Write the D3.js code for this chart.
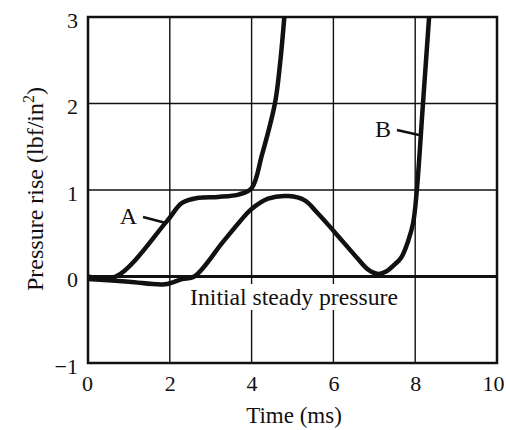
<!DOCTYPE html>
<html>
<head>
<meta charset="utf-8">
<script src="https://cdn.jsdelivr.net/npm/d3@7"></script>
<style>
  html, body { margin: 0; padding: 0; background: #fff; }
  text { font-family: "Liberation Serif", "Times New Roman", serif; fill: #111; }
</style>
</head>
<body>
<svg id="chart" width="506" height="430"></svg>
<script>
// curve A (time in ms, pressure rise in lbf/in^2)
const timeA  = [0, 0.68, 1.93, 2.3, 2.7, 3.18, 3.7, 4.0, 4.25, 4.57, 4.7, 4.8];
const pressA = [0, 0, 0.64, 0.85, 0.91, 0.92, 0.95, 1.02, 1.4, 2.0, 2.48, 3.0];

// curve B
const timeB  = [0, 1.0, 1.88, 2.3, 2.6, 3.3, 3.72, 4.0, 4.4, 4.9, 5.3, 5.6, 6.0, 6.57, 6.85, 7.1, 7.3, 7.5, 7.66, 7.82, 7.95, 8.04, 8.19, 8.34];
const pressB = [-0.03, -0.06, -0.09, -0.03, 0.0, 0.4, 0.64, 0.78, 0.9, 0.93, 0.88, 0.74, 0.53, 0.22, 0.08, 0.03, 0.06, 0.14, 0.22, 0.4, 0.62, 1.0, 2.0, 3.0];

const xTicks = [0, 2, 4, 6, 8, 10];
const yTicks = [-1, 0, 1, 2, 3];

const svg = d3.select('#chart');
const plot = { left: 88, right: 497, top: 17, bottom: 363 };

const x = d3.scaleLinear().domain([0, 10]).range([plot.left, plot.right]);
const y = d3.scaleLinear().domain([-1, 3]).range([plot.bottom, plot.top]);

// grid
const grid = svg.append("g").attr("stroke", "#111").attr("stroke-width", 1.4);
grid.selectAll(".gx")
  .data(xTicks.slice(1, -1))
  .enter().append("line")
  .attr("x1", d => x(d)).attr("x2", d => x(d))
  .attr("y1", plot.top).attr("y2", plot.bottom);
grid.selectAll(".gy")
  .data(yTicks.slice(1, -1).filter(d => d !== 0))
  .enter().append("line")
  .attr("x1", plot.left).attr("x2", plot.right)
  .attr("y1", d => y(d)).attr("y2", d => y(d));

// label box for the steady-pressure line (breaks the grid lines)
svg.append("rect")
  .attr("x", 186).attr("y", 284)
  .attr("width", 216).attr("height", 26)
  .attr("fill", "#fff");

svg.append("text")
  .attr("x", 294).attr("y", 305)
  .attr("text-anchor", "middle")
  .style("font-size", "23.7px")
  .text("Initial steady pressure");

// zero line
svg.append("line")
  .attr("x1", plot.left).attr("x2", plot.right)
  .attr("y1", y(0)).attr("y2", y(0))
  .attr("stroke", "#111").attr("stroke-width", 3);

// frame
svg.append("rect")
  .attr("x", plot.left).attr("y", plot.top)
  .attr("width", plot.right - plot.left).attr("height", plot.bottom - plot.top)
  .attr("fill", "none")
  .attr("stroke", "#111").attr("stroke-width", 2.5);

// curves
svg.append("clipPath").attr("id", "clip")
  .append("rect")
  .attr("x", plot.left).attr("y", plot.top)
  .attr("width", plot.right - plot.left).attr("height", plot.bottom - plot.top);

const line = d3.line()
  .x(d => x(d[0]))
  .y(d => y(d[1]))
  .curve(d3.curveCatmullRom.alpha(0.5));

const curves = svg.append("g").attr("clip-path", "url(#clip)");
[[timeA, pressA], [timeB, pressB]].forEach(([t, p]) => {
  curves.append("path")
    .datum(t.map((v, i) => [v, p[i]]))
    .attr("d", line)
    .attr("fill", "none")
    .attr("stroke", "#111")
    .attr("stroke-width", 4.5)
    .attr("stroke-linejoin", "round");
});

// curve labels + pointers
svg.append("line")
  .attr("x1", 143).attr("y1", 217).attr("x2", 166).attr("y2", 223)
  .attr("stroke", "#111").attr("stroke-width", 2.5);
svg.append("text")
  .attr("x", 128.5).attr("y", 224)
  .attr("text-anchor", "middle")
  .style("font-size", "24px")
  .text("A");

svg.append("line")
  .attr("x1", 397).attr("y1", 130).attr("x2", 419).attr("y2", 135)
  .attr("stroke", "#111").attr("stroke-width", 2.5);
svg.append("text")
  .attr("x", 383).attr("y", 137)
  .attr("text-anchor", "middle")
  .style("font-size", "24px")
  .text("B");

// axes (labels only)
const xAxis = svg.append("g")
  .attr("transform", `translate(0,${plot.bottom})`)
  .call(d3.axisBottom(x).tickValues(xTicks).tickFormat(d3.format("d")).tickSize(0).tickPadding(12));
const yAxis = svg.append("g")
  .attr("transform", `translate(${plot.left},3)`)
  .call(d3.axisLeft(y).tickValues(yTicks).tickFormat(d3.format("d")).tickSize(0).tickPadding(10));
[xAxis, yAxis].forEach(a => {
  a.select(".domain").remove();
  a.selectAll("text")
    .style("font-size", "22px")
    .style("font-family", "'Liberation Serif', serif")
    .attr("fill", "#111");
});
xAxis.selectAll(".tick text").attr("x", d => d === 10 ? -4 : d === 0 ? -1 : 0);

// axis titles
svg.append("text")
  .attr("x", 294).attr("y", 423)
  .attr("text-anchor", "middle")
  .style("font-size", "23px")
  .text("Time (ms)");

const yTitle = svg.append("text")
  .attr("transform", "translate(43,189) rotate(-90)")
  .attr("text-anchor", "middle")
  .style("font-size", "24px");
yTitle.append("tspan").text("Pressure rise (lbf/in");
yTitle.append("tspan").attr("dy", -9).style("font-size", "16px").text("2");
yTitle.append("tspan").attr("dy", 9).text(")");
</script>
</body>
</html>
